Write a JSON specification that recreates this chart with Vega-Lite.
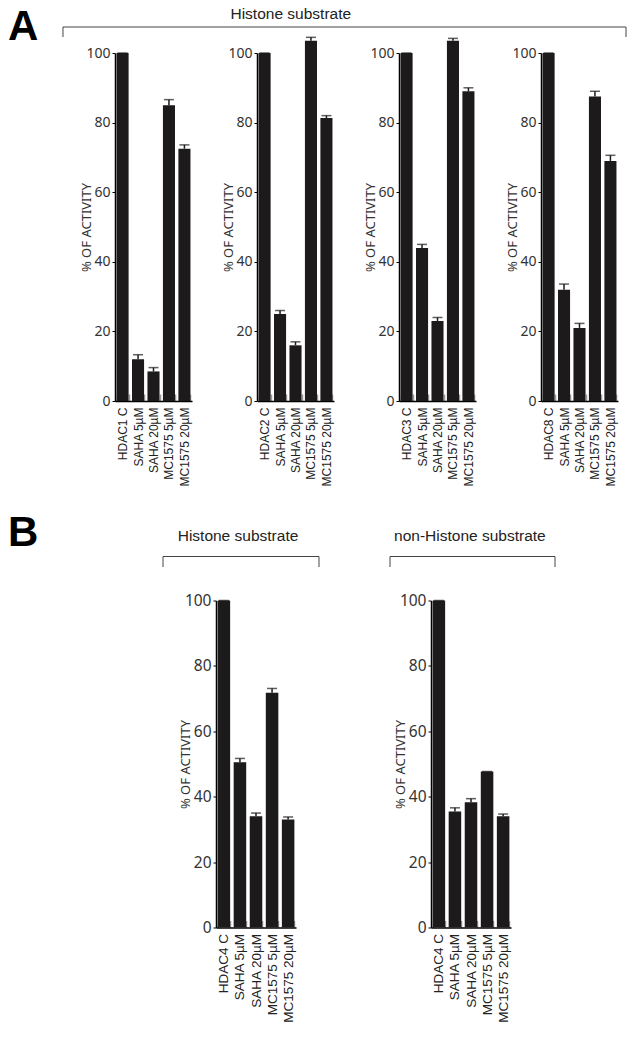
{
  "$schema": "https://vega.github.io/schema/vega-lite/v6.json",
  "background": "white",
  "padding": {"left": 8, "top": 0, "right": 0, "bottom": 0},
  "datasets": {
    "a1": [
      {"c": "HDAC1 C", "v": 100, "hi": 100},
      {"c": "SAHA 5µM", "v": 12, "hi": 13.3},
      {"c": "SAHA 20µM", "v": 8.5, "hi": 9.6},
      {"c": "MC1575 5µM", "v": 85, "hi": 86.6},
      {"c": "MC1575 20µM", "v": 72.5, "hi": 73.6}
    ],
    "a2": [
      {"c": "HDAC2 C", "v": 100, "hi": 100},
      {"c": "SAHA 5µM", "v": 25, "hi": 26},
      {"c": "SAHA 20µM", "v": 16, "hi": 17},
      {"c": "MC1575 5µM", "v": 103.5, "hi": 104.5},
      {"c": "MC1575 20µM", "v": 81.3, "hi": 82}
    ],
    "a3": [
      {"c": "HDAC3 C", "v": 100, "hi": 100},
      {"c": "SAHA 5µM", "v": 44, "hi": 45},
      {"c": "SAHA 20µM", "v": 23, "hi": 24},
      {"c": "MC1575 5µM", "v": 103.5, "hi": 104.2},
      {"c": "MC1575 20µM", "v": 89, "hi": 90}
    ],
    "a4": [
      {"c": "HDAC8 C", "v": 100, "hi": 100},
      {"c": "SAHA 5µM", "v": 32, "hi": 33.6},
      {"c": "SAHA 20µM", "v": 21, "hi": 22.3},
      {"c": "MC1575 5µM", "v": 87.5, "hi": 89},
      {"c": "MC1575 20µM", "v": 69, "hi": 70.6}
    ],
    "b1": [
      {"c": "HDAC4 C", "v": 100, "hi": 100},
      {"c": "SAHA 5µM", "v": 50.5, "hi": 51.7},
      {"c": "SAHA 20µM", "v": 34, "hi": 35},
      {"c": "MC1575 5µM", "v": 71.8, "hi": 73.1},
      {"c": "MC1575 20µM", "v": 33, "hi": 33.8}
    ],
    "b2": [
      {"c": "HDAC4 C", "v": 100, "hi": 100},
      {"c": "SAHA 5µM", "v": 35.5, "hi": 36.6},
      {"c": "SAHA 20µM", "v": 38.3, "hi": 39.4},
      {"c": "MC1575 5µM", "v": 47.7, "hi": 47.7},
      {"c": "MC1575 20µM", "v": 34, "hi": 34.7}
    ],
    "hdrA_rules": [
      {"x": -0.1018, "x2": 1, "y": 0.27, "y2": 0.27},
      {"x": -0.1018, "x2": -0.1018, "y": 0, "y2": 0.27},
      {"x": 1, "x2": 1, "y": 0, "y2": 0.27}
    ],
    "hdrA_text": [{"x": 0.344, "y": 0.486, "t": "Histone substrate"}],
    "hdrB_rules": [
      {"x": -0.1563, "x2": 0.3038, "y": 0.2625, "y2": 0.2625},
      {"x": -0.1563, "x2": -0.1563, "y": 0, "y2": 0.2625},
      {"x": 0.3038, "x2": 0.3038, "y": 0, "y2": 0.2625},
      {"x": 0.5133, "x2": 1, "y": 0.2625, "y2": 0.2625},
      {"x": 0.5133, "x2": 0.5133, "y": 0, "y2": 0.2625},
      {"x": 1, "x2": 1, "y": 0, "y2": 0.2625}
    ],
    "hdrB_text": [
      {"x": 0.0649, "y": 0.65, "t": "Histone substrate"},
      {"x": 0.749, "y": 0.65, "t": "non-Histone substrate"}
    ],
    "letterA": [{"x": 0, "y": 0, "t": "A"}],
    "letterB": [{"x": 0, "y": 0, "t": "B"}]
  },
  "config": {
    "view": {"stroke": null},
    "axis": {"grid": false},
    "axisX": {
      "title": null, "labelAngle": -90, "labelFont": "Liberation Sans", "labelFontSize": 12,
      "labelColor": "#222", "domainColor": "#000", "domainWidth": 1.5,
      "tickBand": "extent", "tickSize": -7, "tickColor": "#999", "tickWidth": 1.5, "labelPadding": 13
    },
    "axisY": {
      "titleFont": "Noto Sans", "titleFontSize": 13, "titleFontWeight": "normal", "titleColor": "#333",
      "titlePadding": -8, "labelFont": "Noto Sans", "labelFontSize": 14, "labelColor": "#333",
      "tickSize": 3, "tickColor": "#000", "tickWidth": 1, "domainColor": "#000", "domainWidth": 1.5, "labelPadding": 2
    },
    "text": {"font": "Liberation Sans"}
  },
  "spacing": 26,
  "vconcat": [
    {
      "spacing": 22,
      "hconcat": [
        {
          "width": 32, "height": 40,
          "data": {"name": "letterA"},
          "mark": {"type": "text", "align": "left", "baseline": "alphabetic", "font": "Liberation Sans", "fontSize": 42, "fontWeight": "bold", "color": "#000"},
          "encoding": {
            "x": {"field": "x", "type": "quantitative", "scale": {"domain": [0, 1]}, "axis": null},
            "y": {"field": "y", "type": "quantitative", "scale": {"domain": [0, 1]}, "axis": null},
            "text": {"field": "t"}
          }
        },
        {
          "spacing": -2,
          "vconcat": [
            {
              "width": 511, "height": 37,
              "layer": [
                {
                  "data": {"name": "hdrA_rules"},
                  "mark": {"type": "rule", "color": "#444", "strokeWidth": 1},
                  "encoding": {
                    "x": {"field": "x", "type": "quantitative", "scale": {"domain": [0, 1]}, "axis": null},
                    "x2": {"field": "x2"},
                    "y": {"field": "y", "type": "quantitative", "scale": {"domain": [0, 1]}, "axis": null},
                    "y2": {"field": "y2"}
                  }
                },
                {
                  "data": {"name": "hdrA_text"},
                  "mark": {"type": "text", "font": "Liberation Sans", "fontSize": 15.5, "color": "#222", "baseline": "alphabetic"},
                  "encoding": {
                    "x": {"field": "x", "type": "quantitative", "scale": {"domain": [0, 1]}, "axis": null},
                    "y": {"field": "y", "type": "quantitative", "scale": {"domain": [0, 1]}, "axis": null},
                    "text": {"field": "t"}
                  }
                }
              ]
            },
            {
              "spacing": 30,
              "hconcat": [
                {
                  "width": 77, "height": 348, "data": {"name": "a1"},
                  "encoding": {
                    "x": {"field": "c", "type": "nominal", "sort": null, "scale": {"paddingInner": 0.22, "paddingOuter": 0.1}},
                    "y": {"field": "v", "type": "quantitative", "title": "% OF ACTIVITY", "scale": {"domain": [0, 100], "nice": false}, "axis": {"values": [0, 20, 40, 60, 80, 100]}}
                  },
                  "layer": [
                    {"mark": {"type": "bar", "color": "#1c1a1b"}},
                    {"mark": {"type": "rule", "color": "#1c1a1b", "strokeWidth": 1.5}, "encoding": {"y2": {"field": "hi"}}},
                    {"mark": {"type": "tick", "color": "#1c1a1b", "thickness": 1.5, "size": 10}, "encoding": {"y": {"field": "hi", "type": "quantitative", "title": "% OF ACTIVITY", "scale": {"domain": [0, 100], "nice": false}, "axis": {"values": [0, 20, 40, 60, 80, 100]}}}}
                  ]
                },
                {
                  "width": 77, "height": 348, "data": {"name": "a2"},
                  "encoding": {
                    "x": {"field": "c", "type": "nominal", "sort": null, "scale": {"paddingInner": 0.22, "paddingOuter": 0.1}},
                    "y": {"field": "v", "type": "quantitative", "title": "% OF ACTIVITY", "scale": {"domain": [0, 100], "nice": false}, "axis": {"values": [0, 20, 40, 60, 80, 100]}}
                  },
                  "layer": [
                    {"mark": {"type": "bar", "color": "#1c1a1b"}},
                    {"mark": {"type": "rule", "color": "#1c1a1b", "strokeWidth": 1.5}, "encoding": {"y2": {"field": "hi"}}},
                    {"mark": {"type": "tick", "color": "#1c1a1b", "thickness": 1.5, "size": 10}, "encoding": {"y": {"field": "hi", "type": "quantitative", "title": "% OF ACTIVITY", "scale": {"domain": [0, 100], "nice": false}, "axis": {"values": [0, 20, 40, 60, 80, 100]}}}}
                  ]
                },
                {
                  "width": 77, "height": 348, "data": {"name": "a3"},
                  "encoding": {
                    "x": {"field": "c", "type": "nominal", "sort": null, "scale": {"paddingInner": 0.22, "paddingOuter": 0.1}},
                    "y": {"field": "v", "type": "quantitative", "title": "% OF ACTIVITY", "scale": {"domain": [0, 100], "nice": false}, "axis": {"values": [0, 20, 40, 60, 80, 100]}}
                  },
                  "layer": [
                    {"mark": {"type": "bar", "color": "#1c1a1b"}},
                    {"mark": {"type": "rule", "color": "#1c1a1b", "strokeWidth": 1.5}, "encoding": {"y2": {"field": "hi"}}},
                    {"mark": {"type": "tick", "color": "#1c1a1b", "thickness": 1.5, "size": 10}, "encoding": {"y": {"field": "hi", "type": "quantitative", "title": "% OF ACTIVITY", "scale": {"domain": [0, 100], "nice": false}, "axis": {"values": [0, 20, 40, 60, 80, 100]}}}}
                  ]
                },
                {
                  "width": 77, "height": 348, "data": {"name": "a4"},
                  "encoding": {
                    "x": {"field": "c", "type": "nominal", "sort": null, "scale": {"paddingInner": 0.22, "paddingOuter": 0.1}},
                    "y": {"field": "v", "type": "quantitative", "title": "% OF ACTIVITY", "scale": {"domain": [0, 100], "nice": false}, "axis": {"values": [0, 20, 40, 60, 80, 100]}}
                  },
                  "layer": [
                    {"mark": {"type": "bar", "color": "#1c1a1b"}},
                    {"mark": {"type": "rule", "color": "#1c1a1b", "strokeWidth": 1.5}, "encoding": {"y2": {"field": "hi"}}},
                    {"mark": {"type": "tick", "color": "#1c1a1b", "thickness": 1.5, "size": 10}, "encoding": {"y": {"field": "hi", "type": "quantitative", "title": "% OF ACTIVITY", "scale": {"domain": [0, 100], "nice": false}, "axis": {"values": [0, 20, 40, 60, 80, 100]}}}}
                  ]
                }
              ]
            }
          ]
        }
      ]
    },
    {
      "spacing": 122,
      "hconcat": [
        {
          "width": 32, "height": 19,
          "data": {"name": "letterB"},
          "mark": {"type": "text", "align": "left", "baseline": "alphabetic", "font": "Liberation Sans", "fontSize": 42, "fontWeight": "bold", "color": "#000"},
          "encoding": {
            "x": {"field": "x", "type": "quantitative", "scale": {"domain": [0, 1]}, "axis": null},
            "y": {"field": "y", "type": "quantitative", "scale": {"domain": [0, 1]}, "axis": null},
            "text": {"field": "t"}
          }
        },
        {
          "spacing": 25.5,
          "vconcat": [
            {
              "width": 339, "height": 40,
              "layer": [
                {
                  "data": {"name": "hdrB_rules"},
                  "mark": {"type": "rule", "color": "#444", "strokeWidth": 1},
                  "encoding": {
                    "x": {"field": "x", "type": "quantitative", "scale": {"domain": [0, 1]}, "axis": null},
                    "x2": {"field": "x2"},
                    "y": {"field": "y", "type": "quantitative", "scale": {"domain": [0, 1]}, "axis": null},
                    "y2": {"field": "y2"}
                  }
                },
                {
                  "data": {"name": "hdrB_text"},
                  "mark": {"type": "text", "font": "Liberation Sans", "fontSize": 15.5, "color": "#222", "baseline": "alphabetic"},
                  "encoding": {
                    "x": {"field": "x", "type": "quantitative", "scale": {"domain": [0, 1]}, "axis": null},
                    "y": {"field": "y", "type": "quantitative", "scale": {"domain": [0, 1]}, "axis": null},
                    "text": {"field": "t"}
                  }
                }
              ]
            },
            {
              "spacing": 98,
              "hconcat": [
                {
                  "width": 80, "height": 327, "data": {"name": "b1"},
                  "encoding": {
                    "x": {"field": "c", "type": "nominal", "sort": null, "scale": {"paddingInner": 0.22, "paddingOuter": 0.1}, "axis": {"labelFontSize": 13.5}},
                    "y": {"field": "v", "type": "quantitative", "title": "% OF ACTIVITY", "scale": {"domain": [0, 100], "nice": false}, "axis": {"values": [0, 20, 40, 60, 80, 100], "labelFontSize": 15.5}}
                  },
                  "layer": [
                    {"mark": {"type": "bar", "color": "#1c1a1b"}},
                    {"mark": {"type": "rule", "color": "#1c1a1b", "strokeWidth": 1.5}, "encoding": {"y2": {"field": "hi"}}},
                    {"mark": {"type": "tick", "color": "#1c1a1b", "thickness": 1.5, "size": 10}, "encoding": {"y": {"field": "hi", "type": "quantitative", "title": "% OF ACTIVITY", "scale": {"domain": [0, 100], "nice": false}, "axis": {"values": [0, 20, 40, 60, 80, 100], "labelFontSize": 15.5}}}}
                  ]
                },
                {
                  "width": 80, "height": 327, "data": {"name": "b2"},
                  "encoding": {
                    "x": {"field": "c", "type": "nominal", "sort": null, "scale": {"paddingInner": 0.22, "paddingOuter": 0.1}, "axis": {"labelFontSize": 13.5}},
                    "y": {"field": "v", "type": "quantitative", "title": "% OF ACTIVITY", "scale": {"domain": [0, 100], "nice": false}, "axis": {"values": [0, 20, 40, 60, 80, 100], "labelFontSize": 15.5}}
                  },
                  "layer": [
                    {"mark": {"type": "bar", "color": "#1c1a1b"}},
                    {"mark": {"type": "rule", "color": "#1c1a1b", "strokeWidth": 1.5}, "encoding": {"y2": {"field": "hi"}}},
                    {"mark": {"type": "tick", "color": "#1c1a1b", "thickness": 1.5, "size": 10}, "encoding": {"y": {"field": "hi", "type": "quantitative", "title": "% OF ACTIVITY", "scale": {"domain": [0, 100], "nice": false}, "axis": {"values": [0, 20, 40, 60, 80, 100], "labelFontSize": 15.5}}}}
                  ]
                }
              ]
            }
          ]
        }
      ]
    }
  ]
}
